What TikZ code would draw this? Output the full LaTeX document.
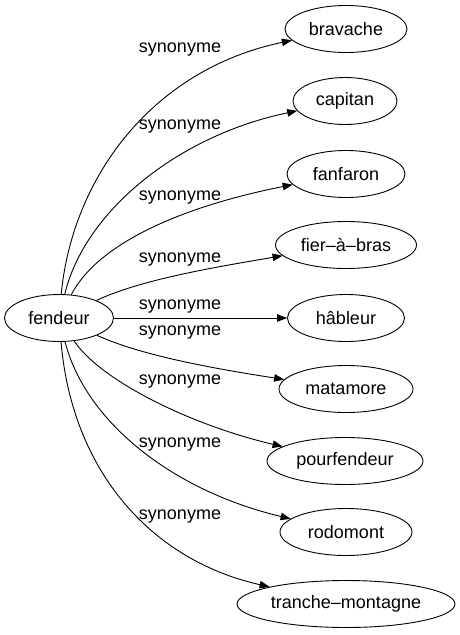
\documentclass[tikz,border=0pt]{standalone}
\usepackage{fontspec}
\setmainfont{Liberation Sans}
\usetikzlibrary{shapes.geometric,arrows.meta}
\begin{document}
\begin{tikzpicture}[x=1pt,y=-1pt,
  wordnode/.style={draw,ellipse,inner sep=0pt,line width=0.9pt,minimum height=47pt,font=\fontsize{18}{20}\selectfont},
  rel/.style={line width=0.9pt,-{Triangle[length=10pt,width=7.5pt]}},
  lbl/.style={font=\fontsize{18}{20}\selectfont,inner sep=0pt}]
\useasboundingbox (0,0) rectangle (459,635);
\node[wordnode,minimum width=109pt] (fendeur) at (59,318) {fendeur};
\node[wordnode,minimum width=122pt] (bravache) at (346,29) {bravache};
\node[wordnode,minimum width=104pt] (capitan) at (345,101) {capitan};
\node[wordnode,minimum width=118pt] (fanfaron) at (346,174) {fanfaron};
\node[wordnode,minimum width=141pt] (fier) at (346,245) {fier–à–bras};
\node[wordnode,minimum width=117pt] (hableur) at (346,318) {hâbleur};
\node[wordnode,minimum width=134pt] (matamore) at (346,389) {matamore};
\node[wordnode,minimum width=156pt] (pourfendeur) at (345,461) {pourfendeur};
\node[wordnode,minimum width=132pt] (rodomont) at (346,532) {rodomont};
\node[wordnode,minimum width=218pt] (tranche) at (346,604) {tranche–montagne};

\draw[rel] (fendeur) .. controls (72,180) and (150,70) .. (bravache);
\draw[rel] (fendeur) .. controls (85,210) and (180,135) .. (capitan);
\draw[rel] (fendeur) .. controls (100,240) and (190,205) .. (fanfaron);
\draw[rel] (fendeur) .. controls (140,280) and (210,268) .. (fier);
\draw[rel] (fendeur) -- (hableur);
\draw[rel] (fendeur) .. controls (140,355) and (210,368) .. (matamore);
\draw[rel] (fendeur) .. controls (100,380) and (190,425) .. (pourfendeur);
\draw[rel] (fendeur) .. controls (85,420) and (170,490) .. (rodomont);
\draw[rel] (fendeur) .. controls (72,470) and (150,560) .. (tranche);

\node[lbl] (l1) at (180,50) {synonyme};
\node[lbl] (l2) at (180,127) {synonyme};
\node[lbl] (l3) at (180,198) {synonyme};
\node[lbl] (l4) at (180,260) {synonyme};
\node[lbl] (l5) at (180,307) {synonyme};
\node[lbl] (l6) at (180,333) {synonyme};
\node[lbl] (l7) at (180,382) {synonyme};
\node[lbl] (l8) at (180,445) {synonyme};
\node[lbl] (l9) at (180,517) {synonyme};
\end{tikzpicture}
\end{document}
